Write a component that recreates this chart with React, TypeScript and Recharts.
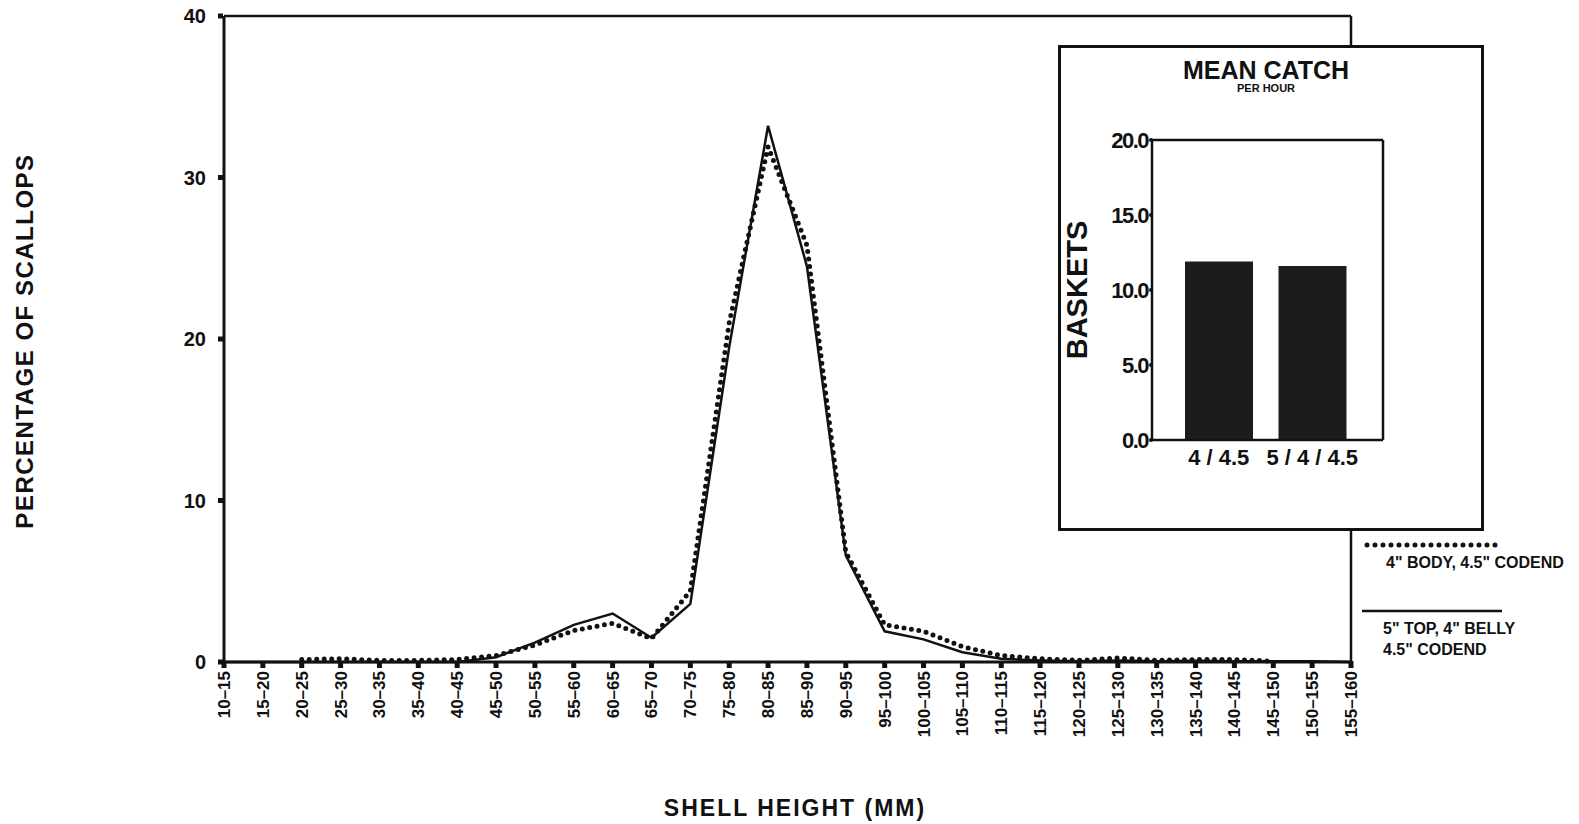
import React from 'react'
import {
  Bar,
  BarChart,
  Line,
  LineChart,
  ReferenceLine,
  XAxis,
  YAxis,
} from 'recharts'

// shell height classes (mm)
const SIZES = [
  '10–15', '15–20', '20–25', '25–30', '30–35', '35–40', '40–45', '45–50',
  '50–55', '55–60', '60–65', '65–70', '70–75', '75–80', '80–85', '85–90',
  '90–95', '95–100', '100–105', '105–110', '110–115', '115–120', '120–125',
  '125–130', '130–135', '135–140', '140–145', '145–150', '150–155', '155–160',
]

// 5" top, 4" belly, 4.5" codend (solid)
const TOP_BELLY = [
  0, 0, 0, 0, 0, 0, 0, 0.3, 1.2, 2.3, 3.0, 1.5, 3.6, 19.5, 33.2, 24.5,
  6.6, 1.9, 1.4, 0.6, 0.2, 0.1, 0.05, 0.1, 0.05, 0.08, 0.05, 0.05, 0.05, 0,
]

// 4" body, 4.5" codend (dotted)
const BODY = [
  null, null, 0.15, 0.2, 0.1, 0.1, 0.15, 0.4, 1.05, 1.95, 2.4, 1.45, 4.4, 21,
  31.9, 25.8, 6.8, 2.3, 1.9, 0.95, 0.4, 0.2, 0.1, 0.25, 0.1, 0.15, 0.15, 0.05,
  null, null,
]

const PCT_TICKS = [0, 10, 20, 30, 40]

// inset: mean catch per hour
const GEARS = ['4 / 4.5', '5 / 4 / 4.5']
const BASKETS = [11.9, 11.6]
const BASKET_TICKS = [0, 5, 10, 15, 20]

const INK = '#111'
const FONT = '"Liberation Sans", Arial, sans-serif'

const rows = SIZES.map((size, i) => ({ size, solid: TOP_BELLY[i], dotted: BODY[i] }))
const catch_ = GEARS.map((gear, i) => ({ gear, baskets: BASKETS[i] }))

function SizeTick({ x, y, payload }: any) {
  const tx = x + 6
  const ty = y + 9
  return (
    <g>
      <rect x={x - 2.5} y={y - 1} width={5} height={7} fill={INK} />
      <text
        x={tx}
        y={ty}
        transform={`rotate(-90 ${tx} ${ty})`}
        textAnchor="end"
        fontFamily={FONT}
        fontWeight="bold"
        fontSize={17}
        fill={INK}
      >
        {payload.value}
      </text>
    </g>
  )
}

function PctTick({ x, y, payload }: any) {
  return (
    <g>
      <rect x={x - 6} y={y - 2.5} width={5} height={5} fill={INK} />
      <text x={x - 18} y={y + 7} textAnchor="end" fontFamily={FONT} fontWeight="bold" fontSize={20} fill={INK}>
        {payload.value}
      </text>
    </g>
  )
}

function BasketTick({ x, y, payload }: any) {
  return (
    <g>
      <circle cx={x - 1} cy={y} r={2} fill={INK} />
      <text
        x={x - 4}
        y={y + 8}
        textAnchor="end"
        fontFamily={FONT}
        fontWeight="bold"
        fontSize={22}
        letterSpacing={-1.5}
        fill={INK}
      >
        {payload.value.toFixed(1)}
      </text>
    </g>
  )
}

function GearTick({ x, y, payload }: any) {
  return (
    <text x={x} y={y + 25} textAnchor="middle" fontFamily={FONT} fontWeight="bold" fontSize={22} fill={INK}>
      {payload.value}
    </text>
  )
}

function PctTitle() {
  return (
    <text
      x={24}
      y={341}
      transform="rotate(-90 24 341)"
      textAnchor="middle"
      dominantBaseline="central"
      fontFamily={FONT}
      fontWeight="bold"
      fontSize={24}
      letterSpacing={1.5}
      fill={INK}
    >
      PERCENTAGE OF SCALLOPS
    </text>
  )
}

function SizeTitle() {
  return (
    <text x={795} y={816} textAnchor="middle" fontFamily={FONT} fontWeight="bold" fontSize={23} letterSpacing={2} fill={INK}>
      SHELL HEIGHT (MM)
    </text>
  )
}

function BasketTitle() {
  return (
    <text
      x={16}
      y={242}
      transform="rotate(-90 16 242)"
      textAnchor="middle"
      dominantBaseline="central"
      fontFamily={FONT}
      fontWeight="bold"
      fontSize={29}
      fill={INK}
    >
      BASKETS
    </text>
  )
}

const legendText: React.CSSProperties = {
  position: 'absolute',
  fontFamily: FONT,
  fontWeight: 'bold',
  fontSize: 16,
  color: INK,
  whiteSpace: 'nowrap',
  lineHeight: '20px',
}

export default function App() {
  return (
    <div style={{ position: 'absolute', left: 0, top: 0, width: 1579, height: 824, background: '#fff' }}>
      <div style={{ position: 'absolute', left: 0, top: 0 }}>
        <LineChart width={1579} height={824} data={rows} margin={{ top: 15, right: 227, bottom: 82, left: 0 }}>
          <XAxis
            dataKey="size"
            interval={0}
            height={80}
            tickSize={0}
            tickMargin={0}
            tick={<SizeTick />}
            axisLine={{ stroke: INK, strokeWidth: 3 }}
            label={<SizeTitle />}
          />
          <XAxis xAxisId="top" dataKey="size" orientation="top" height={1} tick={false} tickLine={false} axisLine={{ stroke: INK, strokeWidth: 2.5 }} />
          <YAxis
            domain={[0, 40]}
            ticks={PCT_TICKS}
            width={224}
            tickSize={0}
            tickMargin={0}
            tick={<PctTick />}
            axisLine={{ stroke: INK, strokeWidth: 3 }}
            label={<PctTitle />}
          />
          <YAxis yAxisId="right" orientation="right" width={1} tick={false} tickLine={false} axisLine={{ stroke: INK, strokeWidth: 2.5 }} />
          <ReferenceLine y={0} stroke={INK} strokeWidth={2} />
          <Line
            dataKey="solid"
            stroke={INK}
            strokeWidth={2.5}
            dot={false}
            strokeLinejoin="miter"
            isAnimationActive={false}
          />
          <Line
            dataKey="dotted"
            stroke={INK}
            strokeWidth={5}
            strokeDasharray="0 7.5"
            strokeLinecap="round"
            dot={false}
            isAnimationActive={false}
          />
        </LineChart>
      </div>

      {/* inset: mean catch per hour */}
      <div
        style={{
          position: 'absolute',
          left: 1058,
          top: 45,
          width: 426,
          height: 486,
          border: `3px solid ${INK}`,
          boxSizing: 'border-box',
          background: '#fff',
        }}
      >
        <div style={{ position: 'absolute', left: 0, top: 0 }}>
          <BarChart width={420} height={480} data={catch_} margin={{ top: 91, right: 97, bottom: 48, left: 0 }}>
            <XAxis
              dataKey="gear"
              height={40}
              interval={0}
              padding={{ left: 20, right: 24 }}
              tickSize={0}
              tickMargin={0}
              tick={<GearTick />}
              axisLine={{ stroke: INK, strokeWidth: 2.5 }}
            />
            <XAxis xAxisId="top" dataKey="gear" orientation="top" height={1} tick={false} tickLine={false} axisLine={{ stroke: INK, strokeWidth: 2.5 }} />
            <YAxis
              domain={[0, 20]}
              ticks={BASKET_TICKS}
              width={91}
              tickSize={0}
              tickMargin={0}
              tick={<BasketTick />}
              axisLine={{ stroke: INK, strokeWidth: 2.5 }}
              label={<BasketTitle />}
            />
            <YAxis yAxisId="r" orientation="right" width={1} tick={false} tickLine={false} axisLine={{ stroke: INK, strokeWidth: 2.5 }} />
            <Bar dataKey="baskets" fill="#1c1c1c" barSize={68} isAnimationActive={false} />
          </BarChart>
        </div>
        <div
          style={{
            position: 'absolute',
            left: 0,
            width: 410,
            top: 10,
            textAlign: 'center',
            fontFamily: FONT,
            fontWeight: 'bold',
            color: INK,
          }}
        >
          <div style={{ fontSize: 25, lineHeight: '24px' }}>MEAN CATCH</div>
          <div style={{ fontSize: 11, lineHeight: '12px' }}>PER HOUR</div>
        </div>
      </div>

      {/* legend */}
      <svg style={{ position: 'absolute', left: 1362, top: 535 }} width={150} height={85}>
        <line x1={5} y1={10} x2={140} y2={10} stroke={INK} strokeWidth={5} strokeDasharray="0 8" strokeLinecap="round" />
        <line x1={0} y1={76} x2={140} y2={76} stroke={INK} strokeWidth={2.5} />
      </svg>
      <div style={{ ...legendText, left: 1386, top: 553 }}>4" BODY, 4.5" CODEND</div>
      <div style={{ ...legendText, left: 1383, top: 619 }}>5" TOP, 4" BELLY</div>
      <div style={{ ...legendText, left: 1383, top: 640 }}>4.5" CODEND</div>
    </div>
  )
}
